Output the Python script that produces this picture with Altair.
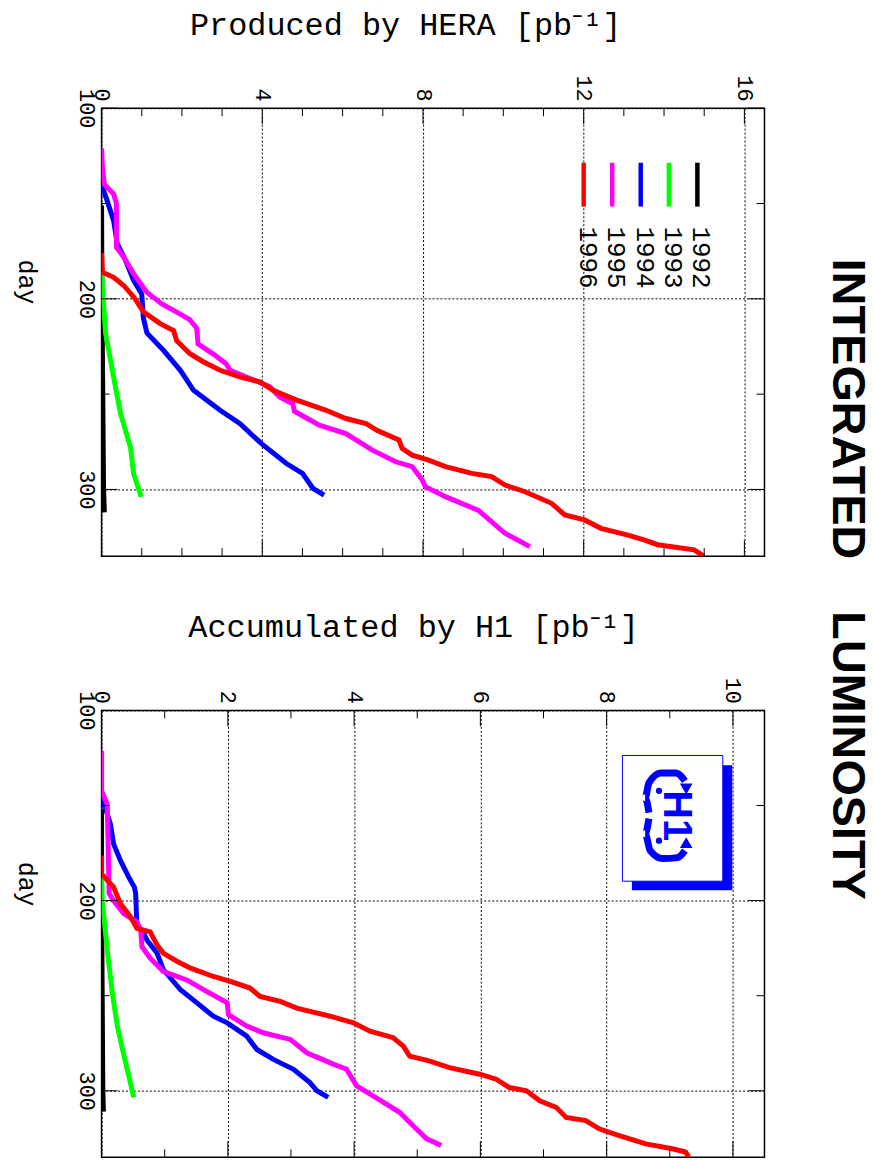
import altair as alt
import pandas as pd

# ---------------- data ----------------
YEARS = ["1992", "1993", "1994", "1995", "1996"]
COLORS = ["#000000", "#00ff00", "#0000ff", "#ff00ff", "#ff0000"]

# Produced by HERA (pb^-1) vs day
hera_day = {
    "1992": [151, 200, 250, 300, 312],
    "1993": [186, 200, 218, 232, 241, 260, 278, 292, 304],
    "1994": [140, 148.6, 159, 171, 180, 190.5, 197.5, 210, 218, 227, 237.5, 248, 258.5,
             265.4, 276, 286.4, 291.6, 299.4, 303],
    "1995": [121, 131, 140, 145, 150, 173, 178, 187, 196.6, 202.7, 208, 211, 215.5, 223.6,
             229, 234, 237.5, 241, 246, 251.5, 255, 259, 266.3, 270.7, 279.4, 285.5, 288,
             295, 298.6, 303.8, 311, 323, 330],
    "1996": [176, 186, 188.7, 193, 199, 207, 213, 216.6, 222, 228.8, 233, 237.5, 241, 243.6,
             248, 253, 258.5, 262.8, 265.4, 269, 274, 278.5, 282, 284.6, 288, 291.6, 293.3,
             297.7, 301.2, 307.3, 313.4, 316, 320.4, 324, 326.5, 329, 331.7, 335],
}
hera_lum = {
    "1992": [0, 0.01, 0.03, 0.05, 0.07],
    "1993": [0, 0.04, 0.1, 0.22, 0.3, 0.47, 0.72, 0.8, 0.99],
    "1994": [0, 0.14, 0.3, 0.39, 0.6, 0.8, 1.0, 1.04, 1.13, 1.54, 1.96, 2.29, 2.95,
             3.44, 3.98, 4.6, 5.0, 5.26, 5.54],
    "1995": [0, 0.02, 0.07, 0.3, 0.37, 0.37, 0.55, 0.8, 1.13, 1.5, 1.96, 2.2, 2.37, 2.4,
             2.78, 3.1, 3.2, 3.6, 4.18, 4.43, 4.76, 4.8, 5.42, 6.08, 6.74, 7.32, 7.73,
             7.98, 8.06, 8.56, 9.38, 10.04, 10.66],
    "1996": [0, 0.02, 0.3, 0.55, 0.8, 1.05, 1.46, 1.79, 1.87, 2.2, 2.53, 2.95, 3.44, 3.94,
             4.27, 4.84, 5.59, 6.08, 6.58, 6.85, 7.4, 7.48, 7.73, 8.14, 8.56, 9.22, 9.71,
             10.04, 10.54, 11.2, 11.53, 12.02, 12.43, 13.1, 13.5, 13.84, 14.75, 14.99],
}

# Accumulated by H1 (pb^-1) vs day
h1_day = {
    "1992": [152, 200, 250, 300, 311],
    "1993": [188, 200, 226, 248.6, 266, 278, 292, 303.5],
    "1994": [145, 159.8, 170.2, 179, 187.7, 193, 196.3, 213.8, 215.5, 220.8, 227.7, 236.4,
             246.9, 253.8, 260.8, 264.3, 271.3, 278.3, 283.5, 288.7, 295.7, 300, 303.5],
    "1995": [121.4, 142.3, 149.3, 196.3, 200, 206.8, 211.2, 215.5, 224.3, 230.3, 237.3,
             241.7, 246.9, 253.8, 260, 266, 269.5, 273, 280, 286, 288.7, 297.4, 302.7,
             311.3, 318.3, 325.3, 328.8],
    "1996": [176.3, 186, 192.9, 201.6, 208.6, 214.6, 216.4, 223.4, 227.7, 232, 235.5, 239.9,
             242.5, 246, 250.4, 253, 256.5, 260.8, 264.3, 268.7, 272.1, 276.5, 281.8, 284.4,
             287.8, 291.3, 293.9, 298.3, 300, 305.3, 308.7, 314, 315.7, 320, 323.6, 327.9,
             330.5, 332.2, 334.9],
}
h1_lum = {
    "1992": [0, 0.0, 0.01, 0.02, 0.03],
    "1993": [0, 0.01, 0.09, 0.17, 0.25, 0.33, 0.43, 0.51],
    "1994": [0, 0.14, 0.19, 0.3, 0.43, 0.52, 0.54, 0.56, 0.64, 0.72, 0.88, 0.98, 1.25,
             1.51, 1.77, 1.99, 2.3, 2.46, 2.72, 3.04, 3.3, 3.41, 3.59],
    "1995": [0, 0.0, 0.09, 0.12, 0.19, 0.35, 0.56, 0.62, 0.64, 0.77, 0.98, 1.35, 1.62,
             1.99, 2.01, 2.3, 2.56, 2.99, 3.25, 3.67, 3.88, 4.04, 4.3, 4.72, 4.93, 5.15, 5.38],
    "1996": [0, 0.0, 0.19, 0.3, 0.46, 0.56, 0.77, 0.88, 0.98, 1.2, 1.41, 1.77, 2.04, 2.35,
             2.51, 2.83, 3.09, 3.62, 3.99, 4.25, 4.62, 4.78, 4.88, 5.2, 5.51, 5.99, 6.25,
             6.46, 6.73, 6.94, 7.2, 7.36, 7.67, 7.88, 8.2, 8.62, 9.04, 9.25, 9.3],
}

DAY_DOMAIN = [100, 335]
DAY_LABELS = [100, 200, 300]
DAY_MINOR = [150, 250]
HERA_LABELS = [0, 4, 8, 12, 16]
HERA_MINOR = [1, 2, 3, 5, 6, 7, 9, 10, 11, 13, 14, 15]
H1_LABELS = [0, 2, 4, 6, 8, 10]
H1_MINOR = [1, 3, 5, 7, 9]

# legend (top panel) placement in data units
LEG_YEARS = ["1996", "1995", "1994", "1993", "1992"]
LEG_LUM = [12.0, 12.71, 13.42, 14.12, 14.83]
LEG_DAY0, LEG_DAY1, LEG_TXT_DAY = 128.6, 151.6, 162.0

# H1 logo (decoration) in data units of the lower panel
LOGO_SHADOW = {"lum": 8.40, "l1": 9.99, "day": 128.8, "d1": 194.6}
LOGO_BOX = {"lum": 8.25, "l1": 9.84, "day": 123.7, "d1": 189.8}
LOGO_TEXT = {"lum": 9.10, "day": 155.4}
ARC_TOP_L = [9.24, 9.10, 8.86, 8.67, 8.61, 8.67]
ARC_TOP_D = [137.1, 132.9, 132.9, 138.1, 145.9, 153.7]
ARC_BOT_L = [8.67, 8.61, 8.69, 8.89, 9.12, 9.24]
ARC_BOT_D = [156.9, 164.8, 173.7, 177.9, 177.4, 173.7]

MONO = "Liberation Mono"
W, H_TOP, H_BOT = 666, 450, 449


def series(days, lums):
    rows = []
    for y in YEARS:
        for i, (d, l) in enumerate(zip(days[y], lums[y])):
            rows.append({"year": y, "day": d, "lum": l, "i": i})
    return pd.DataFrame(rows)


color = alt.Color("year:N", scale=alt.Scale(domain=YEARS, range=COLORS), legend=None)


def panel(df, xmax, xlabels, xminor, xtitle, title_x, H, extras):
    xs = alt.Scale(domain=[0, xmax], nice=False, zero=False)
    ys = alt.Scale(domain=DAY_DOMAIN, reverse=True, nice=False, zero=False)
    xaxis = alt.Axis(
        orient="top", values=xlabels, format="d", labelAngle=90, labelAlign="right",
        labelBaseline="middle", labelPadding=7, labelFont=MONO, labelFontSize=22,
        labelColor="black", labelFlush=False, labelOverlap=False, ticks=False,
        domain=False, grid=True, gridDash=[2, 2], gridColor="black", gridOpacity=1,
        gridWidth=1, title=xtitle, titleFont=MONO, titleFontSize=32,
        titleFontWeight="normal", titleColor="black", titleX=title_x, titleY=-84,
        titleAlign="center", titleBaseline="middle", titleAngle=0)
    yaxis = alt.Axis(
        orient="left", values=DAY_LABELS, format="d", labelAngle=90, labelAlign="center",
        labelBaseline="top", labelPadding=5, labelFont=MONO, labelFontSize=22,
        labelColor="black", labelFlush=False, labelOverlap=False, ticks=False,
        domain=False, grid=True, gridDash=[2, 2], gridColor="black", gridOpacity=1,
        gridWidth=1, title="day", titleFont=MONO, titleFontSize=25,
        titleFontWeight="normal", titleColor="black", titleX=-75, titleY=174,
        titleAlign="center", titleBaseline="middle", titleAngle=90)
    X = alt.X("lum:Q", scale=xs, axis=xaxis)
    Y = alt.Y("day:Q", scale=ys, axis=yaxis)

    layers = []
    for vals, ln in ((xminor, 8), (xlabels, 16)):
        d = pd.DataFrame({"lum": vals})
        base = alt.Chart(d).mark_rule(color="black", strokeWidth=1)
        layers.append(base.encode(x=X, y=alt.value(0), y2=alt.value(ln)))
        layers.append(base.encode(x=X, y=alt.value(H), y2=alt.value(H - ln)))
    for vals, ln in ((DAY_MINOR, 8), (DAY_LABELS, 16)):
        d = pd.DataFrame({"day": vals})
        base = alt.Chart(d).mark_rule(color="black", strokeWidth=1)
        layers.append(base.encode(y=Y, x=alt.value(0), x2=alt.value(ln)))
        layers.append(base.encode(y=Y, x=alt.value(W), x2=alt.value(W - ln)))

    lines = alt.Chart(df).mark_line(strokeWidth=5, clip=True).encode(
        x=X, y=Y, color=color, order="i:Q")

    ex = [e(X, Y) for e in extras]
    return alt.layer(lines, *layers, *ex).properties(width=W, height=H)


def legend_layer(X, Y):
    d = pd.DataFrame({"year": LEG_YEARS, "lum": LEG_LUM,
                      "day": [LEG_DAY0] * 5, "d1": [LEG_DAY1] * 5})
    seg = alt.Chart(d).mark_rule(strokeWidth=4.5).encode(x=X, y=Y, y2="d1:Q", color=color)
    t = pd.DataFrame({"year": LEG_YEARS, "lum": [v + 0.1 for v in LEG_LUM],
                      "day": [LEG_TXT_DAY] * 5})
    txt = alt.Chart(t).mark_text(angle=90, align="left", baseline="middle",
                                 font=MONO, fontSize=26, color="black").encode(
        x=X, y=Y, text="year:N")
    return alt.layer(seg, txt)


def logo_layer(X, Y):
    sh = alt.Chart(pd.DataFrame([LOGO_SHADOW])).mark_rect(color="#0000ff").encode(
        x=X, x2="l1:Q", y=Y, y2="d1:Q")
    bx = alt.Chart(pd.DataFrame([LOGO_BOX])).mark_rect(
        fill="white", stroke="#0000ff", strokeWidth=1).encode(x=X, x2="l1:Q", y=Y, y2="d1:Q")
    tx = alt.Chart(pd.DataFrame([LOGO_TEXT])).mark_text(
        text="H1", angle=90, align="center", baseline="middle", font="Liberation Sans",
        fontWeight="bold", fontSize=40, color="#0000ff").encode(x=X, y=Y)
    arcs_df = pd.DataFrame(
        [{"g": "a", "i": i, "lum": l, "day": d} for i, (l, d) in enumerate(zip(ARC_TOP_L, ARC_TOP_D))]
        + [{"g": "b", "i": i, "lum": l, "day": d} for i, (l, d) in enumerate(zip(ARC_BOT_L, ARC_BOT_D))])
    arcs = alt.Chart(arcs_df).mark_line(color="#0000ff", strokeWidth=7,
                                        interpolate="monotone").encode(
        x=X, y=Y, detail="g:N", order="i:Q")
    heads_df = pd.DataFrame({"lum": [9.26, 9.26], "day": [141.3, 169.5],
                             "s": ["triangle-down", "triangle-up"]})
    heads = alt.Chart(heads_df).mark_point(filled=True, color="#0000ff", size=160,
                                           opacity=1).encode(
        x=X, y=Y, shape=alt.Shape("s:N", scale=None))
    dots_df = pd.DataFrame({"lum": [8.83, 8.83], "day": [142.3, 168.5]})
    dots = alt.Chart(dots_df).mark_circle(color="#0000ff", size=40, opacity=1).encode(x=X, y=Y)
    return alt.layer(sh, bx, arcs, heads, dots, tx)


top = panel(series(hera_day, hera_lum), 16.5, HERA_LABELS, HERA_MINOR,
            "Produced by HERA [pb\u207b\u00b9]", 305, H_TOP, [legend_layer])
bottom = panel(series(h1_day, h1_lum), 10.5, H1_LABELS, H1_MINOR,
               "Accumulated by H1 [pb\u207b\u00b9]", 313, H_BOT, [logo_layer])

chart = alt.vconcat(top, bottom, spacing=52).properties(
    title=alt.TitleParams(
        "INTEGRATED\u00a0\u00a0\u00a0\u00a0LUMINOSITY", orient="right",
        anchor="middle", angle=90, font="Liberation Sans", fontSize=47,
        fontWeight="bold", color="black", offset=58, dx=-4),
    padding={"left": 5, "top": -3, "right": -6, "bottom": 0},
    background="white",
).configure_view(stroke="black", strokeWidth=1.5)

chart.save("out.html", embed_options={"renderer": "svg", "actions": False})
